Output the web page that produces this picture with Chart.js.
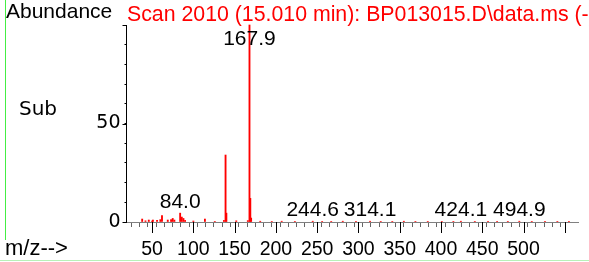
<!DOCTYPE html>
<html>
<head>
<meta charset="utf-8">
<script src="https://cdn.jsdelivr.net/npm/chart.js@4.4.1/dist/chart.umd.min.js"></script>
<style>
  html, body { margin:0; padding:0; background:#fff; }
  #wrap { position:relative; width:589px; height:262px; overflow:hidden; background:#fff; }
  #wrap canvas { position:absolute; left:0; top:0; }
  .txt { position:absolute; white-space:nowrap; line-height:21px; }
  .arial { font-family:"Liberation Sans", Arial, sans-serif; font-size:21px; }
  #abund { left:6px; top:0px; color:#000; }
  #title { left:127px; top:4px; color:#ff0000; font-size:21.3px; }
  #sub { left:19px; top:98px; font-family:"DejaVu Sans", sans-serif; font-size:20px; color:#000; }
  #mz { left:5px; top:237px; font-family:"Liberation Sans", Arial, sans-serif; font-size:22px; color:#000; }
  #gline { position:absolute; left:5px; top:0; width:1px; height:240px; background:#44ee44; }
  #bline { position:absolute; left:0; top:260px; width:589px; height:1px; background:#b8f0b8; }
</style>
</head>
<body>
<div id="wrap">
  <canvas id="ms" width="589" height="262"></canvas>
  <div id="gline"></div>
  <div id="bline"></div>
  <div class="txt arial" id="abund">Abundance</div>
  <div class="txt arial" id="title">Scan 2010 (15.010 min): BP013015.D\data.ms (-)</div>
  <div class="txt" id="sub">Sub</div>
  <div class="txt" id="mz">m/z--&gt;</div>
</div>
<script>
// peaks (m/z and abundance, base peak = 100)
const MZ = [38, 42, 46, 50, 51, 56, 60, 62, 69, 73, 75, 77, 84, 86, 88, 90, 100, 114, 126, 137,
            139, 140, 152, 166, 168, 169, 170,
            181, 195, 207, 223, 244.6, 256, 267, 281, 297, 314.1, 327, 341, 355, 369, 384,
            401, 415, 424.1, 441, 457, 468, 481, 494.9, 510, 526, 541, 555];
const ABUND = [1.5, 0.6, 1.0, 0.5, 1.0, 0.8, 1.2, 3.3, 1.0, 1.2, 1.8, 1.0, 4.5, 2.5, 1.8, 0.8, 0.5, 1.5, 0.3, 0.8,
               34, 4.5, 0.6, 0.7, 100, 12, 2.0,
               0.4, 0.3, 0.4, 0.3, 0.4, 0.3, 0.3, 0.4, 0.3, 0.4, 0.3, 0.3, 0.4, 0.3, 0.3,
               0.3, 0.3, 0.4, 0.3, 0.3, 0.3, 0.3, 0.4, 0.3, 0.3, 0.3, 0.3];

// labelled peaks
const LABEL_MZ = [167.9, 84.0, 244.6, 314.1, 424.1, 494.9];
const LABEL_ABUND = [100, 4.5, 0.4, 0.4, 0.4, 0.4];

// axis ticks
const X_MIN = 19, X_MAX = 566;
const X_LABELS = [50, 100, 150, 200, 250, 300, 350, 400, 450, 500];
const Y_LABELS = [0, 50];

// longer marks on every 50th unit, drawn over the native short ticks
const majorTicks = {
  id:'majorTicks',
  afterDraw(chart){
    const ctx = chart.ctx, xs = chart.scales.x, ys = chart.scales.y;
    ctx.save();
    ctx.lineWidth = 1;
    ctx.strokeStyle = '#000';
    ctx.beginPath();
    xs.ticks.forEach(t => {
      if (t.value % 50 !== 0) return;
      const px = Math.round(xs.getPixelForValue(t.value)) + 0.5;
      ctx.moveTo(px, chart.chartArea.bottom);
      ctx.lineTo(px, chart.chartArea.bottom + 11);
    });
    ys.ticks.forEach(t => {
      if (t.value % 50 !== 0) return;
      const py = Math.round(ys.getPixelForValue(t.value)) + 0.5;
      ctx.moveTo(chart.chartArea.left, py);
      ctx.lineTo(chart.chartArea.left - 4, py);
    });
    ctx.stroke();
    ctx.restore();
  }
};

const peakLabels = {
  id:'peakLabels',
  afterDatasetsDraw(chart){
    const ctx = chart.ctx, xs = chart.scales.x, ys = chart.scales.y;
    ctx.save();
    ctx.font = '21px "Liberation Sans", Arial, sans-serif';
    ctx.fillStyle = '#000';
    ctx.textAlign = 'center';
    ctx.textBaseline = 'alphabetic';
    LABEL_MZ.forEach((mz, i) => {
      const x = xs.getPixelForValue(mz);
      const y = Math.max(ys.getPixelForValue(LABEL_ABUND[i]) - 5, 45);
      ctx.fillText(mz.toFixed(1), x, y);
    });
    ctx.restore();
  }
};

new Chart(document.getElementById('ms'), {
  type:'bar',
  data:{ datasets:[{
    data: MZ.map((m, i) => ({x:m, y:ABUND[i]})),
    backgroundColor:'#ff0000', borderWidth:0,
    barThickness:1.2, clip:false,
  }]},
  options:{
    responsive:false, animation:false,
    layout:{ padding:{ left:0, top:25, right:11, bottom:0 } },
    plugins:{ legend:{display:false}, tooltip:{enabled:false} },
    scales:{
      x:{
        type:'linear', min:X_MIN, max:X_MAX, offset:false,
        grid:{ display:true, drawOnChartArea:false, drawTicks:true, tickLength:5,
               tickColor: c => (c.tick && c.tick.value % 10 === 0) ? '#666' : 'rgba(0,0,0,0)' },
        border:{ display:true, color:'#808080', width:1 },
        ticks:{
          stepSize:10, autoSkip:false, maxRotation:0, padding:11,
          color:'#000', font:{ family:'"Liberation Sans", Arial, sans-serif', size:19.5 },
          callback: v => X_LABELS.includes(v) ? String(v) : ''
        },
        afterFit: s => { s.height = 40; }
      },
      y:{
        min:0, max:100,
        grid:{ display:true, drawOnChartArea:false, drawTicks:true, tickLength:2, tickColor:'#000' },
        border:{ display:true, color:'#000', width:1 },
        ticks:{
          stepSize:10, autoSkip:false, padding:4,
          color:'#000', font:{ family:'"DejaVu Sans", sans-serif', size:19 },
          callback: v => Y_LABELS.includes(v) ? String(v) : ''
        },
        afterFit: s => { s.width = 126.5; }
      }
    }
  },
  plugins:[majorTicks, peakLabels]
});
</script>
</body>
</html>
